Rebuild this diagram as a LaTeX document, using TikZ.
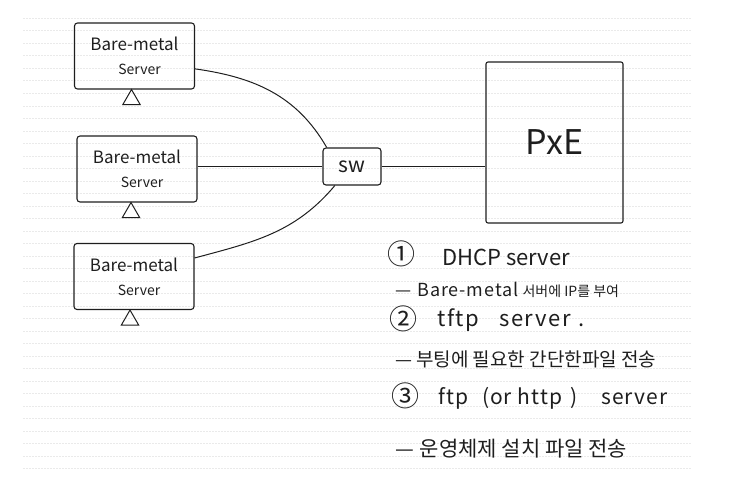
\documentclass[tikz,border=0pt]{standalone}
\usepackage{fontspec}
\setmainfont{Noto Sans CJK KR}
\usetikzlibrary{positioning,calc,shapes.geometric}
\definecolor{cInk}{RGB}{30,30,30}
\definecolor{cRule}{RGB}{234,234,234}

\begin{document}
\begin{tikzpicture}[x=1pt,y=-1pt,every node/.style={text=cInk},
    server/.style={draw=cInk,line width=1.1pt,rounded corners=3pt,minimum width=120pt,
      minimum height=66pt,align=center,inner sep=0pt},
    stand/.style={draw=cInk,line width=1pt,regular polygon,regular polygon sides=3,
      minimum size=20pt,inner sep=0pt},
    wire/.style={draw=cInk,line width=1pt},
    note/.style={anchor=base west,inner sep=0pt},
    num/.style={inner sep=0pt,font=\fontsize{28}{28}\selectfont}]
  \useasboundingbox (0,0) rectangle (739,487);
  % notebook rules
  \foreach \k in {0,...,36}
    \draw[cRule,line width=0.6pt,dash pattern=on 2pt off 1pt]
      (23,18.3+12.5*\k) -- (691,18.3+12.5*\k);

  % servers and their stands
  \node[server] (srv1) at (134.5,56) {\fontsize{17}{20}\selectfont Bare-metal\\[12pt]
    \fontsize{14}{17}\selectfont\hspace{10pt}Server};
  \node[server] (srv2) at (137,169) {\fontsize{17}{20}\selectfont Bare-metal\\[12pt]
    \fontsize{14}{17}\selectfont\hspace{10pt}Server};
  \node[server] (srv3) at (134,276.5) {\fontsize{17}{20}\selectfont Bare-metal\\[12pt]
    \fontsize{14}{17}\selectfont\hspace{10pt}Server};
  \node[stand,below=-1pt of srv1,xshift=-3pt] (st1) {};
  \node[stand,below=-1pt of srv2,xshift=-6pt] (st2) {};
  \node[stand,below=-1pt of srv3,xshift=-4pt] (st3) {};

  % switch and pxe box
  \node[draw=cInk,line width=1.1pt,rounded corners=3pt,minimum width=58pt,
    minimum height=37pt,inner sep=0pt] (sw) at (352,166.5)
    {\fontsize{21}{21}\selectfont sw};
  \node[draw=cInk,line width=1.1pt,rounded corners=2pt,minimum width=137pt,
    minimum height=161pt,inner sep=0pt] (pxe) at (554.5,142.5)
    {\fontsize{34}{34}\selectfont PxE\hspace{12pt}};

  \draw[wire] (srv1.-12) to[out=-8,in=120] (sw.143);
  \draw[wire] (srv2.east |- sw.west) -- (sw.west);
  \draw[wire] (srv3.17) to[out=15,in=-130] (sw.228);
  \draw[wire] (sw.east) -- (sw.east -| pxe.west);

  % notes
  \node[num] (n1) at (401,254) {①};
  \node[note] (l1) at (442,265) {\fontsize{22}{22}\selectfont DHCP server};
  \node[note] (l2) at (395,296) {\fontsize{18}{18}\selectfont —\hspace{6pt}%
    {\addfontfeature{LetterSpace=5}Bare-metal}\hspace{4pt}%
    \fontsize{14}{14}\selectfont 서버에 IP를 부여};
  \node[num] (n2) at (403,319) {②};
  \node[note] (l3) at (437,326) {\fontsize{22}{22}\selectfont
    \addfontfeature{LetterSpace=7}tftp\hspace{20pt}server\hspace{8pt}.};
  \node[note] (l4) at (395,366) {\fontsize{19}{19}\selectfont
    —\hspace{4pt}부팅에 필요한 간단한파일 전송};
  \node[num] (n3) at (405,396) {③};
  \node[note] (l5) at (438,404) {\fontsize{21}{21}\selectfont
    \addfontfeature{LetterSpace=5}ftp\hspace{14pt}(or http\hspace{8pt})%
    \hspace{24pt}server};
  \node[note] (l6) at (395,456) {\fontsize{21}{21}\selectfont
    —\hspace{6pt}운영체제 설치 파일 전송};
\end{tikzpicture}
\end{document}
